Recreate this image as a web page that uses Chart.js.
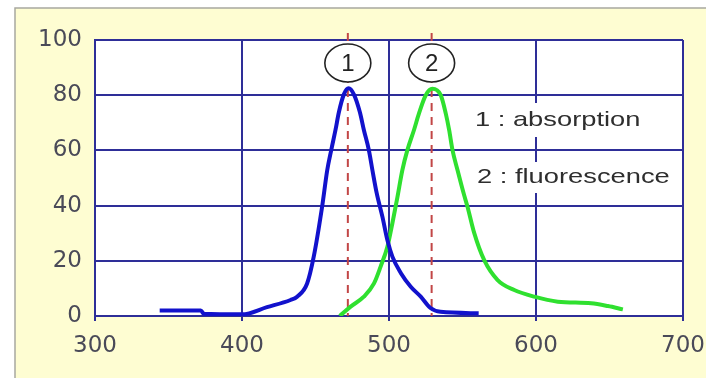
<!DOCTYPE html>
<html>
<head>
<meta charset="utf-8">
<script src="https://cdn.jsdelivr.net/npm/chart.js@4.4.1/dist/chart.umd.min.js"></script>
<style>
  html, body { margin: 0; padding: 0; background: #ffffff; }
  #wrap { width: 706px; height: 378px; }
</style>
</head>
<body>
<div id="wrap"><canvas id="myChart" width="706" height="378"></canvas></div>
<script>
// absorption curve (1)
var absWavelength = [344, 372, 374, 400, 417, 433, 437.5, 444.3, 448.8, 454.5, 458, 460.7, 463.6, 465.9, 469.3, 472.5, 476.1, 480.2, 482.9, 486.3, 488.7, 491.6, 495.5, 498.9, 502.3, 508, 514.8, 521.6, 528, 535, 561];
var absIntensity  = [2, 2, 0.8, 0.6, 3.2, 5.8, 7, 11.8, 21.5, 39.6, 52.9, 60.1, 67.4, 73.8, 80.3, 82.5, 80.3, 73.8, 67.4, 60.1, 52.9, 44.6, 36, 27.5, 21.5, 15.6, 10.6, 7, 3, 1.5, 1];

// fluorescence curve (2)
var fluWavelength = [466.5, 473.9, 482.9, 489.8, 494.3, 498.9, 502.3, 505.7, 509.1, 512.5, 517, 520.4, 525, 529.5, 535.2, 538.6, 540.9, 543.2, 546.6, 551, 553.4, 558, 564.7, 573.9, 585.2, 598.8, 614.8, 637.5, 648.9, 659.1];
var fluIntensity  = [0, 3.4, 7, 11.8, 17.9, 25.1, 33.6, 43, 52.9, 60.1, 67.4, 73.4, 80, 82.3, 80, 73.4, 67.4, 60.1, 52.9, 44, 39.6, 30, 20.3, 13, 9.4, 7, 5.2, 4.6, 3.6, 2.4];

// peak markers and legend text
var markerX = [472, 529];
var markerLabels = ['1', '2'];
var legendLines = ['1 : absorption', '2 : fluorescence'];

var xTicks = [300, 400, 500, 600, 700];
var yTicks = [0, 20, 40, 60, 80, 100];

function toPoints(xs, ys) {
    var pts = [];
    for (var i = 0; i < xs.length; i++) {
        pts.push({ x: xs[i], y: ys[i] });
    }
    return pts;
}

var gridColor = '#2e2e98';

var decor = {
    id: 'decor',
    beforeDraw: function(chart) {
        var ctx = chart.ctx;
        var a = chart.chartArea;
        ctx.save();
        ctx.fillStyle = '#ffffff';
        ctx.fillRect(0, 0, chart.width, chart.height);
        // yellow panel
        ctx.fillStyle = '#fefdd2';
        ctx.fillRect(15, 8, chart.width - 15, chart.height - 8);
        ctx.strokeStyle = '#a8a8a0';
        ctx.lineWidth = 1.5;
        ctx.beginPath();
        ctx.moveTo(15, chart.height);
        ctx.lineTo(15, 8);
        ctx.lineTo(chart.width, 8);
        ctx.stroke();
        // white plot area
        ctx.fillStyle = '#ffffff';
        ctx.fillRect(a.left, a.top, a.right - a.left, a.bottom - a.top);
        ctx.restore();
    },
    beforeDatasetsDraw: function(chart) {
        var ctx = chart.ctx;
        var a = chart.chartArea;
        var xs = chart.scales.x;
        ctx.save();
        // white boxes behind legend text (hide the grid line)
        ctx.fillStyle = '#ffffff';
        ctx.fillRect(a.left + 378, 103, 200, 34);
        ctx.fillRect(a.left + 378, 162, 200, 31);
        // red dashed peak lines
        ctx.strokeStyle = '#c24646';
        ctx.lineWidth = 2;
        ctx.setLineDash([8, 6]);
        markerX.forEach(function(v) {
            var px = xs.getPixelForValue(v);
            ctx.beginPath();
            ctx.moveTo(px, a.top - 7);
            ctx.lineTo(px, a.bottom);
            ctx.stroke();
        });
        ctx.restore();
    },
    afterDatasetsDraw: function(chart) {
        var ctx = chart.ctx;
        var a = chart.chartArea;
        var xs = chart.scales.x;
        ctx.save();
        // circled numbers
        markerX.forEach(function(v, i) {
            var px = xs.getPixelForValue(v);
            var cy = a.top + 23;
            ctx.beginPath();
            ctx.ellipse(px, cy, 23, 19, 0, 0, Math.PI * 2);
            ctx.fillStyle = '#ffffff';
            ctx.fill();
            ctx.lineWidth = 1.6;
            ctx.strokeStyle = '#222222';
            ctx.stroke();
            ctx.fillStyle = '#222222';
            ctx.font = '24px "Liberation Sans", Arial, sans-serif';
            ctx.textAlign = 'center';
            ctx.textBaseline = 'middle';
            ctx.fillText(markerLabels[i], px, cy + 1);
        });
        // legend text, stretched a bit like the original
        ctx.fillStyle = '#2e2e2e';
        ctx.font = '21px "Liberation Sans", Arial, sans-serif';
        ctx.textAlign = 'left';
        ctx.textBaseline = 'middle';
        var rows = [120, 177];
        legendLines.forEach(function(t, i) {
            ctx.save();
            ctx.translate(a.left + 380 + i * 2, rows[i]);
            ctx.scale(1.3, 1);
            ctx.fillText(t, 0, 0);
            ctx.restore();
        });
        ctx.restore();
    }
};

var ctx = document.getElementById('myChart').getContext('2d');
var chart = new Chart(ctx, {
    type: 'line',
    data: {
        datasets: [{
            label: 'absorption',
            data: toPoints(absWavelength, absIntensity),
            borderColor: '#1212cc',
            borderWidth: 4,
            pointRadius: 0,
            cubicInterpolationMode: 'monotone',
            fill: false
        }, {
            label: 'fluorescence',
            data: toPoints(fluWavelength, fluIntensity),
            borderColor: '#2fe02f',
            borderWidth: 4,
            pointRadius: 0,
            cubicInterpolationMode: 'monotone',
            fill: false
        }]
    },
    options: {
        responsive: false,
        animation: false,
        layout: { padding: { top: 40, right: 23, left: 0, bottom: 0 } },
        plugins: {
            legend: { display: false },
            tooltip: { enabled: false }
        },
        scales: {
            x: {
                type: 'linear',
                min: 300,
                max: 700,
                afterBuildTicks: function(scale) {
                    scale.ticks = xTicks.map(function(v) { return { value: v }; });
                },
                afterFit: function(scale) {
                    scale.height = 62;
                    scale.paddingLeft = 0;
                    scale.paddingRight = 0;
                },
                grid: { color: gridColor, lineWidth: 2, drawTicks: true, tickLength: 5, tickColor: gridColor },
                border: { color: gridColor, width: 2 },
                ticks: {
                    padding: 11,
                    color: '#4a4a58',
                    font: { family: '"DejaVu Sans", Verdana, sans-serif', size: 23 },
                    maxRotation: 0
                }
            },
            y: {
                min: 0,
                max: 100,
                afterBuildTicks: function(scale) {
                    scale.ticks = yTicks.map(function(v) { return { value: v }; });
                },
                afterFit: function(scale) {
                    scale.width = 95;
                    scale.paddingTop = 0;
                    scale.paddingBottom = 0;
                },
                grid: { color: gridColor, lineWidth: 2, drawTicks: false },
                border: { color: gridColor, width: 2 },
                ticks: {
                    padding: 13,
                    color: '#4a4a58',
                    font: { family: '"DejaVu Sans", Verdana, sans-serif', size: 23 }
                }
            }
        }
    },
    plugins: [decor]
});
</script>
</body>
</html>
